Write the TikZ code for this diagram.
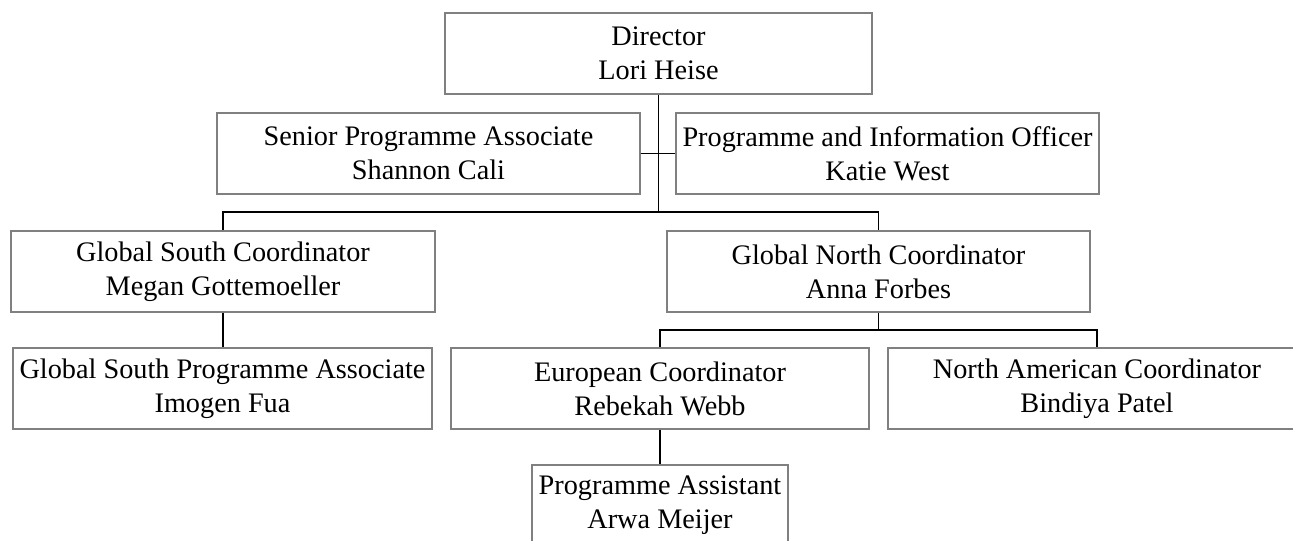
\documentclass[tikz,border=0pt]{standalone}
\usepackage{fontspec}
\setmainfont{Liberation Serif}
\begin{document}
\begin{tikzpicture}[x=0.75pt,y=-0.75pt,
  box/.style={draw=black!50,line width=1.1pt,fill=white,rectangle,inner sep=0pt,
    minimum height=81*0.75pt,align=center,
    font=\fontsize{21.2}{25.5}\selectfont},
  link/.style={draw=black,line width=1.1pt}]
\useasboundingbox (0,0) rectangle (1293,541);
\clip (0,0) rectangle (1293,541);
\node[box,minimum width=427*0.75pt] (dir) at (658.5,53.5) {Director\\Lori Heise};
\node[box,minimum width=423*0.75pt] (sen) at (428.5,153.5) {Senior Programme Associate\\Shannon Cali};
\node[box,minimum width=423*0.75pt] (pio) at (887.5,153.5) {Programme and Information Officer\\Katie West};
\node[box,minimum width=424*0.75pt] (gs) at (223,271.5) {Global South Coordinator\\Megan Gottemoeller};
\node[box,minimum width=423*0.75pt] (gn) at (878.5,271.5) {Global North Coordinator\\Anna Forbes};
\node[box,minimum width=419*0.75pt] (gspa) at (222.5,388.5) {Global South Programme Associate\\Imogen Fua};
\node[box,minimum width=418*0.75pt] (eu) at (660,388.5) {European Coordinator\\Rebekah Webb};
\node[box,minimum width=418*0.75pt] (na) at (1097,388.5) {North American Coordinator\\Bindiya Patel};
\node[box,minimum width=256*0.75pt] (pa) at (660,505.5) {Programme Assistant\\Arwa Meijer};
\coordinate (j1) at (658.5,212);
\coordinate (j2) at (878.5,330);
\draw[link] (dir.south) -- (j1);
\draw[link] (sen.east) -- (pio.west);
\draw[link] (gs.north) |- (j1) -| (gn.north);
\draw[link] (gs.south) -- (gs.south |- gspa.north);
\draw[link] (gn.south) -- (j2);
\draw[link] (eu.north) |- (j2) -| (na.north);
\draw[link] (eu.south) -- (pa.north);
\end{tikzpicture}
\end{document}
